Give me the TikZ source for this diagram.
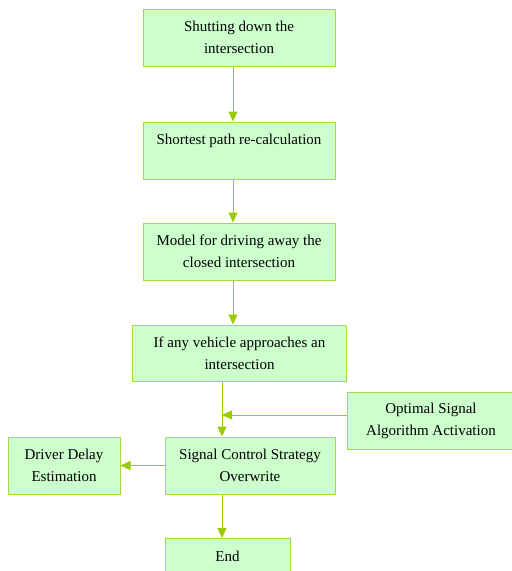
\documentclass[tikz,border=0pt]{standalone}
\usepackage{fontspec}
\setmainfont{Liberation Serif}
\usetikzlibrary{arrows.meta}
\definecolor{boxfill}{HTML}{CCFFCC}
\definecolor{boxline}{HTML}{A8D83C}
\definecolor{arrline}{HTML}{99CC00}
\tikzset{
  stepbox/.style={draw=boxline,fill=boxfill,line width=1pt,inner sep=0pt,align=center,
    font=\fontsize{15}{22}\selectfont},
  flow/.style={draw=arrline,line width=1pt,-{Triangle[length=10pt,width=9pt]}}
}

\begin{document}
\begin{tikzpicture}[x=1pt,y=-1pt]
  \useasboundingbox (0,0) rectangle (512,571);
  % main column
  \node[stepbox,minimum width=192pt,minimum height=57pt] (shut) at (239,37.5) {Shutting down the\\intersection};
  \node[stepbox,minimum width=192pt,minimum height=57pt] (recalc) at (239,150.5) {Shortest path re-calculation\\\mbox{}};
  \node[stepbox,minimum width=192pt,minimum height=57pt] (away) at (239,251.5) {Model for driving away the\\closed intersection};
  \node[stepbox,minimum width=214pt,minimum height=56pt] (approach) at (239.5,353) {If any vehicle approaches an\\intersection};
  \node[stepbox,minimum width=170pt,minimum height=57pt] (ctrl) at (250,465.5) {Signal Control Strategy\\Overwrite};
  \node[stepbox,minimum width=125pt,minimum height=57pt] (endbox) at (227.5,567) {End\\\mbox{}};
  % side boxes
  \node[stepbox,minimum width=168pt,minimum height=57pt] (optimal) at (431,420.5) {Optimal Signal\\Algorithm Activation};
  \node[stepbox,minimum width=112pt,minimum height=57pt] (driver) at (64,465.5) {Driver Delay\\Estimation};
  \coordinate (optout) at ([yshift=5.5pt]optimal.west);
  \coordinate (merge) at ([xshift=-28pt]ctrl.north |- optout);
  % connectors
  \draw[flow] ([xshift=-6pt]shut.south) -- ([xshift=-6pt]recalc.north);
  \draw[flow] ([xshift=-6pt]recalc.south) -- ([xshift=-6pt]away.north);
  \draw[flow] ([xshift=-6pt]away.south) -- ([xshift=-6.5pt]approach.north);
  \draw[flow] ([xshift=-28pt]ctrl.north |- approach.south) -- ([xshift=-28pt]ctrl.north);
  \draw[flow] (optout) -- (merge);
  \draw[flow] (ctrl.west) -- (driver.east);
  \draw[flow] ([xshift=-28pt]ctrl.south) -- ([xshift=-28pt]ctrl.south |- endbox.north);
\end{tikzpicture}
\end{document}
